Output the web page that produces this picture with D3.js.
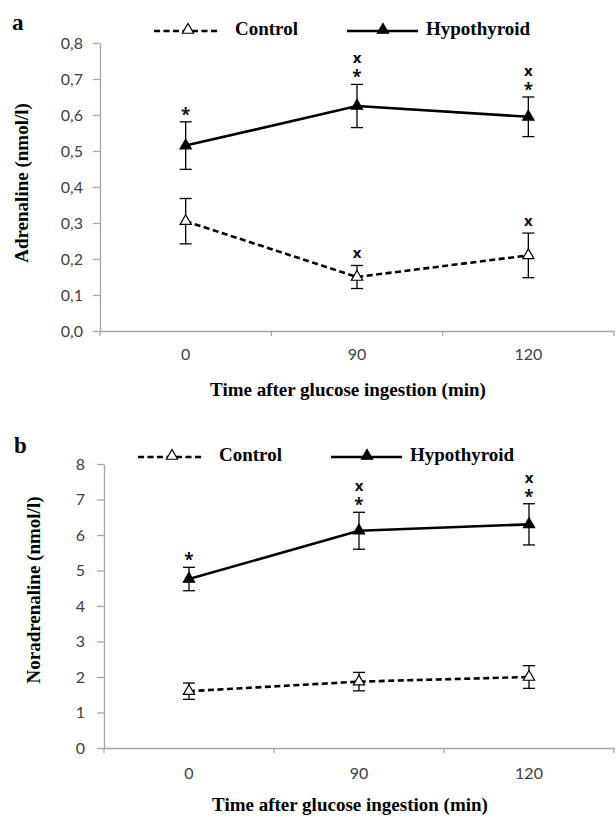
<!DOCTYPE html>
<html>
<head>
<meta charset="utf-8">
<script src="https://cdn.jsdelivr.net/npm/d3@7"></script>
<style>
  body { margin: 0; background: white; }
  svg { display: block; }
</style>
</head>
<body>
<div id="chart"></div>
<script>
const width = 616
const height = 816

// data
const times = ['0', '90', '120']
const adrControl = [0.305, 0.15, 0.21]
const adrControlErr = [0.063, 0.032, 0.062]
const adrHypo = [0.515, 0.625, 0.595]
const adrHypoErr = [0.066, 0.06, 0.055]
const norControl = [1.6, 1.87, 2.0]
const norControlErr = [0.23, 0.26, 0.32]
const norHypo = [4.76, 6.12, 6.3]
const norHypoErr = [0.33, 0.52, 0.58]
// significance marks, listed bottom to top
const adrControlMarks = [[], ['x'], ['x']]
const adrHypoMarks = [['*'], ['*', 'x'], ['*', 'x']]
const norControlMarks = [[], [], []]
const norHypoMarks = [['*'], ['*', 'x'], ['*', 'x']]
const adrTicks = [0, 0.1, 0.2, 0.3, 0.4, 0.5, 0.6, 0.7, 0.8]
const norTicks = [0, 1, 2, 3, 4, 5, 6, 7, 8]

const serif = "'Liberation Serif', 'Times New Roman', serif"
const sans = "Lato, 'Open Sans', sans-serif"
const markFont = "'Open Sans', sans-serif"
const axisColor = '#a6a6a6'
const comma = d3.formatLocale({ decimal: ',', thousands: '.', grouping: [3], currency: ['', ''] })

const svg = d3.select('#chart')
  .append('svg')
    .attr('width', width)
    .attr('height', height)

const glyphOffset = { '*': 9, 'x': 4 }

const drawPanel = p => {
  const g = svg.append('g')

  const x = d3.scaleBand()
    .domain(times)
    .range([p.left, p.right])
    .padding(0)
  const y = d3.scaleLinear()
    .domain(p.domain)
    .range([p.bottom, p.top])

  // y axis
  g.append('g')
    .attr('transform', `translate(${p.left},0)`)
    .call(d3.axisLeft(y).tickValues(p.ticks).tickSize(7).tickPadding(p.tickPad).tickSizeOuter(0).tickFormat(p.format))
    .call(a => a.selectAll('.domain, line').attr('stroke', axisColor).attr('stroke-width', 1.3))
    .call(a => a.selectAll('text')
      .attr('fill', '#404040')
      .style('font-family', sans)
      .style('font-size', '16px'))

  // x axis: labels at band centres, ticks at band edges
  g.append('g')
    .attr('transform', `translate(0,${p.bottom})`)
    .call(d3.axisBottom(x).tickSize(0).tickPadding(p.xPad).tickSizeOuter(0))
    .call(a => a.select('.domain').attr('stroke', axisColor).attr('stroke-width', 1.3))
    .call(a => a.selectAll('text')
      .attr('fill', '#404040')
      .style('font-family', sans)
      .style('font-size', '16px'))
  g.append('g')
    .selectAll('line')
    .data(times.map(t => x(t)).concat([x(times[times.length - 1]) + x.bandwidth()]))
    .enter().append('line')
      .attr('x1', d => d)
      .attr('x2', d => d)
      .attr('y1', p.bottom)
      .attr('y2', p.bottom + 5)
      .attr('stroke', axisColor)
      .attr('stroke-width', 1.3)

  const cx = t => x(t) + x.bandwidth() / 2

  const series = [
    { values: p.control, errs: p.controlErr, marks: p.controlMarks, dash: '6,3.5', fill: 'white' },
    { values: p.hypo, errs: p.hypoErr, marks: p.hypoMarks, dash: null, fill: 'black' },
  ]

  series.forEach(s => {
    const pts = times.map((t, i) => ({ t, v: s.values[i], e: s.errs[i], m: s.marks[i] }))

    // error bars
    const eb = g.append('g').attr('stroke', 'black').attr('stroke-width', 1.3)
    pts.forEach(d => {
      eb.append('line').attr('x1', cx(d.t)).attr('x2', cx(d.t))
        .attr('y1', y(d.v - d.e)).attr('y2', y(d.v + d.e))
      ;[d.v - d.e, d.v + d.e].forEach(v => eb.append('line')
        .attr('x1', cx(d.t) - 6).attr('x2', cx(d.t) + 6)
        .attr('y1', y(v)).attr('y2', y(v)))
    })

    // line
    g.append('path')
      .datum(pts)
      .attr('fill', 'none')
      .attr('stroke', 'black')
      .attr('stroke-width', 2.6)
      .attr('stroke-dasharray', s.dash)
      .attr('d', d3.line().x(d => cx(d.t)).y(d => y(d.v)))

    // markers
    g.append('g')
      .selectAll('path')
      .data(pts)
      .enter().append('path')
        .attr('transform', d => `translate(${cx(d.t)},${y(d.v)})`)
        .attr('d', d3.symbol(d3.symbolTriangle, 55))
        .attr('fill', s.fill)
        .attr('stroke', 'black')
        .attr('stroke-width', 1.2)

    // significance marks
    pts.forEach(d => {
      const top = y(d.v + d.e)
      d.m.forEach((m, k) => {
        const c = top - (m === 'x' && k === 0 ? 11.5 : 10) - k * 15
        g.append('text')
          .attr('x', cx(d.t))
          .attr('y', c + glyphOffset[m])
          .attr('text-anchor', 'middle')
          .attr('fill', '#111')
          .style('font-family', markFont)
          .style('font-weight', 'bold')
          .style('font-size', m === '*' ? '17px' : '15px')
          .text(m)
      })
    })
  })

  // titles
  g.append('text')
    .attr('x', (p.left + p.right) / 2 - 9)
    .attr('y', p.xTitleY)
    .attr('text-anchor', 'middle')
    .style('font-family', serif)
    .style('font-weight', 'bold')
    .style('font-size', '19px')
    .text('Time after glucose ingestion (min)')
  g.append('text')
    .attr('transform', `translate(${p.yTitleX},${p.yTitleY}) rotate(-90)`)
    .attr('text-anchor', 'middle')
    .style('font-family', serif)
    .style('font-weight', 'bold')
    .style('font-size', '19px')
    .text(p.yTitle)
  g.append('text')
    .attr('x', p.labelX)
    .attr('y', p.labelY)
    .style('font-family', serif)
    .style('font-weight', 'bold')
    .style('font-size', '23px')
    .text(p.label)

  // legend
  const lg = g.append('g').attr('transform', `translate(0,${p.legendY})`)
  lg.append('line')
    .attr('x1', p.legendX).attr('x2', p.legendX + 66)
    .attr('y1', 0).attr('y2', 0)
    .attr('stroke', 'black').attr('stroke-width', 2.4)
    .attr('stroke-dasharray', '6,3.5')
  lg.append('path')
    .attr('transform', `translate(${p.legendX + 34},-1)`)
    .attr('d', d3.symbol(d3.symbolTriangle, 55))
    .attr('fill', 'white').attr('stroke', 'black').attr('stroke-width', 1.2)
  lg.append('text')
    .attr('x', p.legendX + 81).attr('y', 4)
    .style('font-family', serif).style('font-weight', 'bold').style('font-size', '19px')
    .text('Control')
  lg.append('line')
    .attr('x1', p.legendX + 193).attr('x2', p.legendX + 264)
    .attr('y1', 0).attr('y2', 0)
    .attr('stroke', 'black').attr('stroke-width', 2.4)
  lg.append('path')
    .attr('transform', `translate(${p.legendX + 229},-1)`)
    .attr('d', d3.symbol(d3.symbolTriangle, 55))
    .attr('fill', 'black').attr('stroke', 'black').attr('stroke-width', 1.2)
  lg.append('text')
    .attr('x', p.legendX + 272).attr('y', 4)
    .style('font-family', serif).style('font-weight', 'bold').style('font-size', '19px')
    .text('Hypothyroid')
}

drawPanel({
  left: 100, right: 614, top: 43, bottom: 331,
  domain: [0, 0.8], ticks: adrTicks, format: comma.format('.1f'), tickPad: 10, xPad: 18,
  control: adrControl, controlErr: adrControlErr, controlMarks: adrControlMarks,
  hypo: adrHypo, hypoErr: adrHypoErr, hypoMarks: adrHypoMarks,
  xTitleY: 396, yTitle: 'Adrenaline (nmol/l)', yTitleX: 28, yTitleY: 183,
  label: 'a', labelX: 12, labelY: 30, legendX: 154, legendY: 31,
})

drawPanel({
  left: 104, right: 614, top: 464, bottom: 748,
  domain: [0, 8], ticks: norTicks, format: d3.format('d'), tickPad: 12, xPad: 20,
  control: norControl, controlErr: norControlErr, controlMarks: norControlMarks,
  hypo: norHypo, hypoErr: norHypoErr, hypoMarks: norHypoMarks,
  xTitleY: 811, yTitle: 'Noradrenaline (nmol/l)', yTitleX: 40, yTitleY: 590,
  label: 'b', labelX: 14, labelY: 453, legendX: 138, legendY: 457,
})
</script>
</body>
</html>
